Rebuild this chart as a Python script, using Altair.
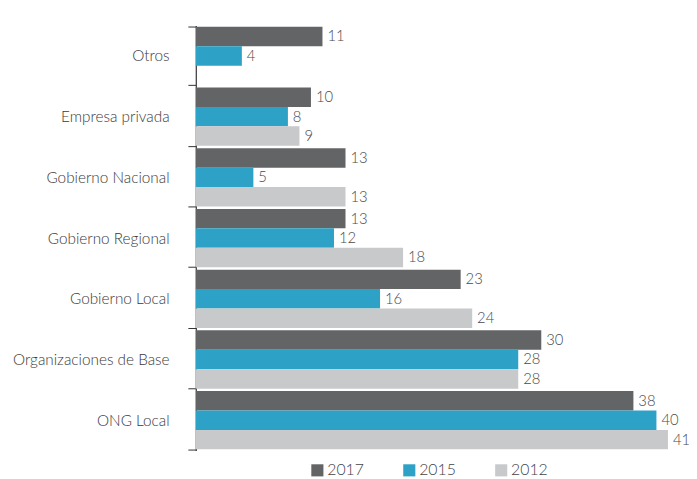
import altair as alt
import pandas as pd

categories = ["Otros", "Empresa privada", "Gobierno Nacional", "Gobierno Regional",
              "Gobierno Local", "Organizaciones de Base", "ONG Local"]
years = ["2017", "2015", "2012"]
v2017 = [11, 10, 13, 13, 23, 30, 38]
v2015 = [4, 8, 5, 12, 16, 28, 40]
v2012 = [None, 9, 13, 18, 24, 28, 41]
colors = ["#636466", "#2ea2c6", "#c8c9cb"]

rows = []
for i, c in enumerate(categories):
    for y, vals in zip(years, [v2017, v2015, v2012]):
        if vals[i] is not None:
            rows.append({"cat": c, "year": y, "value": vals[i]})
df = pd.DataFrame(rows)

FONT = "Lato"
PLOT_W = 496
PLOT_H = 430

base = alt.Chart(df).encode(
    y=alt.Y("cat:N", sort=categories,
            scale=alt.Scale(paddingInner=0.04, paddingOuter=0.02),
            axis=alt.Axis(title=None, tickBand="extent", tickSize=8, labelPadding=19,
                          labelFontSize=15.5, labelFont=FONT, labelFontWeight=300,
                          labelColor="#3a3a3a",
                          domainColor="#333333", tickColor="#333333", domainWidth=1.2)),
    yOffset=alt.YOffset("year:N", sort=years),
    x=alt.X("value:Q", scale=alt.Scale(domain=[0, 42.57], nice=False), axis=None),
)

bars = base.mark_bar().encode(
    color=alt.Color("year:N", sort=years,
                    scale=alt.Scale(domain=years, range=colors),
                    legend=alt.Legend(title=None, orient="none", direction="horizontal",
                                      legendX=115, legendY=442, symbolType="square",
                                      symbolSize=150, symbolStrokeWidth=0,
                                      labelFont=FONT, labelFontSize=16, labelFontWeight=300,
                                      labelColor="#444444",
                                      labelOffset=2, columnPadding=37))
)

labels = base.mark_text(align="left", baseline="middle", dx=5, font=FONT, fontWeight=300,
                        fontSize=15, color="#4a4a4a").encode(text="value:Q")

chart = (bars + labels).properties(
    width=PLOT_W, height=PLOT_H,
    autosize=alt.AutoSizeParams(type="none"),
    padding={"left": 190, "top": 15, "right": 3, "bottom": 26},
).configure_view(stroke=None).configure_axis(grid=False)

chart.save("out.html", embed_options={"renderer": "svg", "actions": False})
